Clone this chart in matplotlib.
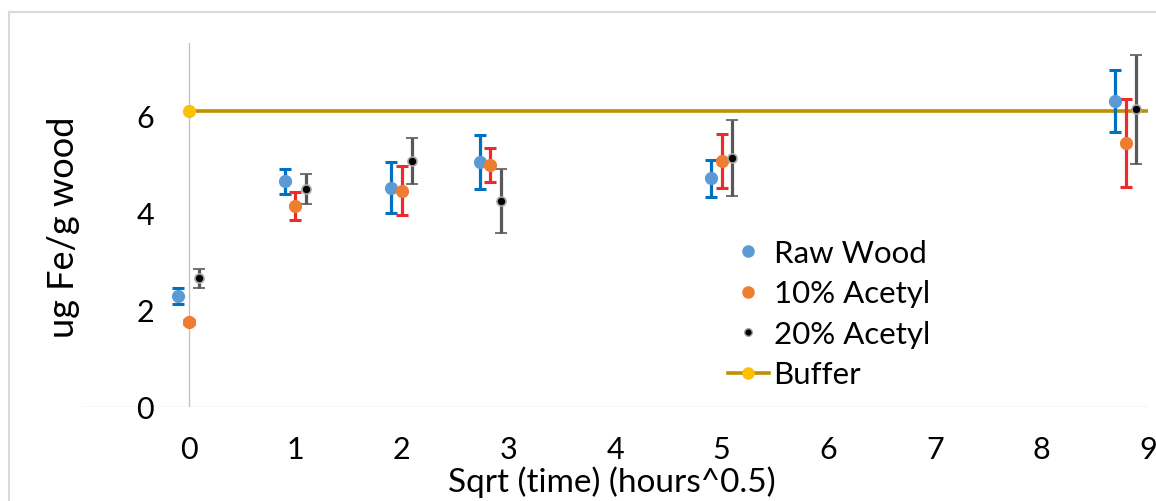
import matplotlib
matplotlib.use("Agg")
import matplotlib.pyplot as plt
from matplotlib.lines import Line2D

plt.rcParams['font.family'] = ['Lato', 'DejaVu Sans']

# ---- data ----
x_base = [0, 1, 2, 2.83, 5, 8.79]
raw = [2.29, 4.65, 4.52, 5.05, 4.71, 6.30]
raw_err = [0.17, 0.26, 0.53, 0.56, 0.38, 0.64]
ac10 = [1.75, 4.14, 4.46, 4.99, 5.07, 5.44]
ac10_err = [0.05, 0.29, 0.51, 0.35, 0.55, 0.90]
ac20 = [2.65, 4.49, 5.07, 4.25, 5.13, 6.13]
ac20_err = [0.20, 0.31, 0.47, 0.66, 0.79, 1.12]
buffer_x = [0, 9]
buffer_y = [6.09, 6.09]
x_ticks = [0, 1, 2, 3, 4, 5, 6, 7, 8, 9]
y_ticks = [0, 2, 4, 6]
series_names = ["Raw Wood", "10% Acetyl", "20% Acetyl", "Buffer"]

W, H = 1156, 502
fig = plt.figure(figsize=(W / 100, H / 100), dpi=100)
ax = fig.add_axes([82 / W, (H - 408) / H, 1066 / W, 364 / H])
ax.set_xlim(-1, 9)
ax.set_ylim(0, 7.5)
for s in ax.spines.values():
    s.set_visible(False)

axis_col = '#BFBFBF'
ax.axhline(0, color=axis_col, lw=0.9, zorder=1)
ax.axvline(0, color=axis_col, lw=0.9, zorder=1)

offset = 0.1
ebkw = dict(elinewidth=2.3, capsize=4.2, capthick=2.2, linestyle='none', zorder=3)
ax.errorbar([x - offset for x in x_base], raw, yerr=raw_err, fmt='o', ms=8.5,
            color='#5B9BD5', mec='#5B9BD5', ecolor='#0070C0', label=series_names[0], **ebkw)
ax.errorbar(x_base, ac10, yerr=ac10_err, fmt='o', ms=8.5,
            color='#ED7D31', mec='#ED7D31', ecolor='#EE2A2A', label=series_names[1], **ebkw)
ax.errorbar([x + offset for x in x_base], ac20, yerr=ac20_err, fmt='o', ms=6.5,
            color='black', mec='#A6A6A6', mew=1.2, ecolor='#595959', label=series_names[2], **ebkw)
ax.plot(buffer_x, buffer_y, color='#BF9000', lw=2.6, marker='o', ms=8.5,
        mfc='#FFC000', mec='#FFC000', markevery=[0], label=series_names[3], zorder=2)

ax.set_xticks(x_ticks)
ax.set_xticklabels([str(v) for v in x_ticks])
ax.set_yticks(y_ticks)
ax.set_yticklabels([str(v) for v in y_ticks])
ax.tick_params(axis='x', length=0, pad=20, labelsize=22)
ax.tick_params(axis='y', length=0, pad=-52, labelsize=22)

ax.set_xlabel("Sqrt (time) (hours^0.5)", fontsize=24)
ax.xaxis.set_label_coords((612 - 82) / 1066, (408 - 466) / 364)
ax.set_ylabel("ug Fe/g wood", fontsize=26)
ax.yaxis.label.set_va('center')
ax.yaxis.set_label_coords((63 - 82) / 1066, (408 - 227) / 364)

leg_handles = [
    Line2D([], [], ls='none', marker='o', ms=8, color='#5B9BD5'),
    Line2D([], [], ls='none', marker='o', ms=8, color='#ED7D31'),
    Line2D([], [], ls='none', marker='o', ms=5.5, color='black', mec='#A6A6A6'),
    Line2D([], [], color='#BF9000', lw=2.6, marker='o', ms=8, mfc='#FFC000', mec='#FFC000'),
]
ax.legend(leg_handles, series_names, loc='upper left', frameon=False, fontsize=22.5,
          bbox_to_anchor=(728 / W, (H - 240) / H), bbox_transform=fig.transFigure,
          handlelength=1.3, handletextpad=0.16, labelspacing=0.4, borderpad=0, borderaxespad=0)

# outer frame (partially visible)
fcol = '#D9D9D9'
fig.add_artist(Line2D([9 / W, 1.0], [(H - 13) / H] * 2, transform=fig.transFigure, color=fcol, lw=1.5))
fig.add_artist(Line2D([9 / W] * 2, [0, (H - 13) / H], transform=fig.transFigure, color=fcol, lw=1.5))

fig.savefig("out.png", dpi=100)
